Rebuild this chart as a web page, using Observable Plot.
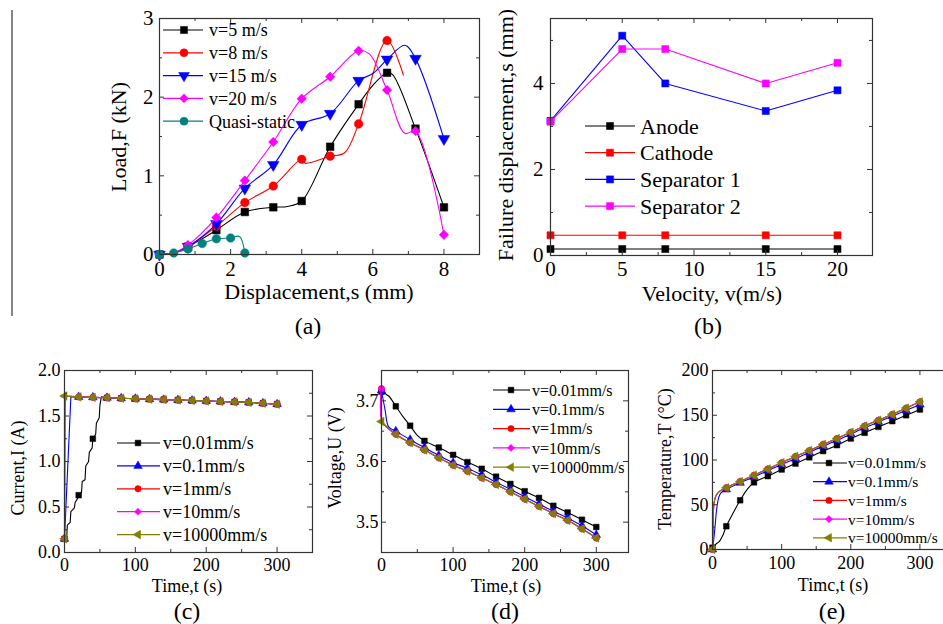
<!DOCTYPE html>
<html><head><meta charset="utf-8">
<script src="https://cdn.jsdelivr.net/npm/d3@7"></script>
<script src="https://cdn.jsdelivr.net/npm/@observablehq/plot@0.6"></script>
<style>
body{margin:0;background:#fff;}
#wrap{position:relative;width:943px;height:624px;overflow:hidden;background:#fff;}
#wrap svg{position:absolute;}
</style></head><body><div id="wrap"></div>
<script>
// ---------------- DATA ----------------
// (a) Load vs displacement
const dispV5  = [0,0.4,0.8,1.2,1.6,2.4,3.2,3.6,4.0,4.8,5.6,6.0,6.4,6.55,7.2,8.0];
const loadV5  = [0,0.02,0.1,0.2,0.31,0.54,0.60,0.61,0.68,1.37,1.91,2.15,2.31,2.29,1.60,0.60];
const dispV8  = [0,0.4,0.8,1.6,2.4,3.2,4.0,4.1,4.8,5.2,5.6,6.4,6.86];
const loadV8  = [0,0.02,0.1,0.36,0.66,0.87,1.21,1.16,1.25,1.29,1.66,2.72,2.28];
const dispV15 = [0,0.4,0.8,1.6,2.4,3.2,4.0,4.8,5.6,6.0,6.4,6.9,7.2,8.0];
const loadV15 = [0,0.02,0.1,0.39,0.84,1.14,1.65,1.79,2.21,2.30,2.48,2.66,2.49,1.47];
const dispV20 = [0,0.4,0.8,1.6,2.4,3.2,4.0,4.8,5.6,5.9,6.4,6.9,7.2,8.0];
const loadV20 = [0,0.02,0.12,0.47,0.94,1.43,1.98,2.26,2.59,2.55,2.09,1.54,1.57,0.25];
const dispQS  = [0,0.4,0.8,1.2,1.6,2.0,2.25,2.4];
const loadQS  = [0,0.02,0.07,0.14,0.20,0.21,0.23,0.02];
const namesA  = ["v=5 m/s","v=8 m/s","v=15 m/s","v=20 m/s","Quasi-static"];

// (b) Failure displacement vs velocity
const velocity   = [0,5,8,15,20];
const anode      = [0.15,0.15,0.15,0.15,0.15];
const cathode    = [0.47,0.47,0.47,0.47,0.47];
const separator1 = [3.13,5.11,4.0,3.36,3.84];
const separator2 = [3.11,4.80,4.80,4.0,4.48];
const namesB     = ["Anode","Cathode","Separator 1","Separator 2"];

// (c)(d)(e) shared
const namesCDE = ["v=0.01mm/s","v=0.1mm/s","v=1mm/s","v=10mm/s","v=10000mm/s"];
const tPlateau = [20,40,60,80,100,120,140,160,180,200,220,240,260,280,300];

// (c) Current
const curPlateau = [1.71,1.705,1.70,1.695,1.69,1.685,1.68,1.675,1.67,1.665,1.66,1.655,1.65,1.64,1.63];
const tCurSlow = [0,3,4,8,9,14,15,19,20,24,25,29,30,34,35,39,40,44,45,49,50,52];
const iCurSlow = [0.15,0.15,0.30,0.33,0.45,0.49,0.55,0.60,0.63,0.66,0.78,0.80,0.95,1.0,1.10,1.15,1.25,1.30,1.42,1.48,1.62,1.71];
const tCur01 = [0,9];      const iCur01 = [0.15,1.71];
const tCur1  = [0,1];      const iCur1  = [0.15,1.72];
const tCur10 = [0,0.5];    const iCur10 = [0.15,1.72];
const tCur1e4 = [0,0];     const iCur1e4 = [0.15,1.72];

// (d) Voltage
const tVoltSlow = [0,10,20,30,40,50,60,80,100,120,140,160,180,200,220,240,260,280,300];
const uVoltSlow = [3.715,3.708,3.691,3.674,3.659,3.643,3.634,3.623,3.611,3.599,3.588,3.575,3.563,3.551,3.540,3.527,3.516,3.504,3.492];
const tVolt01 = [0,5,10,20,40,60,80,100,120,140,160,180,200,220,240,260,280,300];
const uVolt01 = [3.717,3.685,3.657,3.650,3.636,3.623,3.610,3.598,3.589,3.578,3.566,3.554,3.542,3.530,3.518,3.507,3.494,3.479];
const tVoltFast = [0,1,20,40,60,80,100,120,140,160,180,200,220,240,260,280,300];
const uVoltFast = [3.72,3.666,3.645,3.631,3.619,3.606,3.594,3.584,3.573,3.562,3.550,3.538,3.526,3.514,3.503,3.489,3.474];
const tVolt1e4 = [0,20,40,60,80,100,120,140,160,180,200,220,240,260,280,300];
const uVolt1e4 = [3.666,3.645,3.631,3.619,3.606,3.594,3.584,3.573,3.562,3.550,3.538,3.526,3.514,3.503,3.489,3.474];

// (e) Temperature
const tTempSlow = [0,5,10,15,20,30,40,50,60,80,100,120,140,160,180,200,220,240,260,280,300];
const TTempSlow = [2,6,9,16,26,41,55,67,75,82,89.4,96,103,110,116.6,124,130.4,137,143.4,150,156.4];
const tTemp01 = [0,3,6,9,12,20,40,60,80,100,120,140,160,180,200,220,240,260,280,300];
const TTemp01 = [0,20,45,58,63,67,74.5,81,88,95,101.5,108.5,115.5,122,129,136,142.5,149,155.5,162];
const tTempFast = [0,1,2,5,10,20,40,60,80,100,120,140,160,180,200,220,240,260,280,300];
const TTempFast = [0,30,50,60,65,69,76,83,90,97,104,110.5,117.5,124,131,138,144.5,151,158,165];

// ---------------- HELPERS ----------------
const FONT = '"Liberation Serif","Times New Roman",serif';
const wrap = document.getElementById("wrap");
const rows = (xs, ys) => xs.map((x, i) => ({x, y: ys[i]}));
const onStep = (step) => (d) => Math.abs(d.x / step - Math.round(d.x / step)) < 1e-6;
const style = (fs) => ({fontFamily: FONT, fontSize: fs + "px", color: "#000", background: "transparent", overflow: "visible"});

const C = {black:"#000000", red:"#ff0000", blue:"#0000ff", magenta:"#ff00ff", teal:"#008080", olive:"#808000"};
const SYM = {
  square: {symbol:"square", rotate:0},
  circle: {symbol:"circle", rotate:0},
  up:     {symbol:"triangle", rotate:0},
  down:   {symbol:"triangle", rotate:180},
  left:   {symbol:"triangle", rotate:-90},
  diamond:{symbol:"diamond2", rotate:0}
};
const D3SYM = {square:d3.symbolSquare, circle:d3.symbolCircle, triangle:d3.symbolTriangle, diamond2:d3.symbolDiamond2};

function frameTicks(fw, fh, xMaj, xMin, yMaj, yMin) {
  const L = 5, S = 3, st = {stroke: "#333", strokeWidth: 1};
  return [
    Plot.tickX(xMaj, {insetTop: fh - L, ...st}),
    Plot.tickX(xMaj, {insetBottom: fh - L, ...st}),
    Plot.tickX(xMin, {insetTop: fh - S, ...st}),
    Plot.tickX(xMin, {insetBottom: fh - S, ...st}),
    Plot.tickY(yMaj, {insetRight: fw - L, ...st}),
    Plot.tickY(yMaj, {insetLeft: fw - L, ...st}),
    Plot.tickY(yMin, {insetRight: fw - S, ...st}),
    Plot.tickY(yMin, {insetLeft: fw - S, ...st}),
    Plot.frame({stroke: "#333", strokeWidth: 1.2})
  ];
}

function seriesMarks(list, curve, r) {
  const out = [];
  for (const s of list) {
    const data = rows(s.xs, s.ys);
    out.push(Plot.line(data, {x: "x", y: "y", stroke: s.color, strokeWidth: 1.1, curve}));
    out.push(Plot.dot(data.filter(onStep(s.step)), {x: "x", y: "y", r, fill: s.color, stroke: s.color, strokeWidth: 0.5, symbol: SYM[s.sym].symbol, rotate: SYM[s.sym].rotate}));
  }
  return out;
}

function place(svg, left, top) {
  svg.style.left = left + "px";
  svg.style.top = top + "px";
  wrap.appendChild(svg);
}

// ---------------- (a) ----------------
const seriesA = [
  {xs: dispV5,  ys: loadV5,  color: C.black,   sym: "square",  step: 0.8},
  {xs: dispV8,  ys: loadV8,  color: C.red,     sym: "circle",  step: 0.8},
  {xs: dispV15, ys: loadV15, color: C.blue,    sym: "down",    step: 0.8},
  {xs: dispV20, ys: loadV20, color: C.magenta, sym: "diamond", step: 0.8},
  {xs: dispQS,  ys: loadQS,  color: C.teal,    sym: "circle",  step: 0.4}
];
{
  const w = 440, h = 340, ml = 99, mr = 21, mt = 18, mb = 86;
  place(Plot.plot({
    width: w, height: h, marginLeft: ml, marginRight: mr, marginTop: mt, marginBottom: mb,
    x: {domain: [0, 9]}, y: {domain: [0, 3]}, style: style(21),
    marks: [
      ...seriesMarks(seriesA, "catmull-rom", 4.3),
      ...frameTicks(w - ml - mr, h - mt - mb, [0,2,4,6,8], [1,3,5,7], [0,1,2,3], [0.5,1.5,2.5]),
      Plot.axisX({ticks: [0,2,4,6,8], tickSize: 0, tickPadding: 7, tickFormat: d3.format("d"), label: null}),
      Plot.axisY({ticks: [0,1,2,3], tickSize: 0, tickPadding: 6, tickFormat: d3.format("d"), label: null})
    ]
  }), 60, 0);
}

// ---------------- (b) ----------------
const seriesB = [
  {xs: velocity, ys: anode,      color: C.black,   sym: "square", step: 1},
  {xs: velocity, ys: cathode,    color: C.red,     sym: "square", step: 1},
  {xs: velocity, ys: separator1, color: C.blue,    sym: "square", step: 1},
  {xs: velocity, ys: separator2, color: C.magenta, sym: "square", step: 1}
];
{
  const w = 400, h = 340, ml = 50, mr = 28, mt = 18, mb = 85;
  place(Plot.plot({
    width: w, height: h, marginLeft: ml, marginRight: mr, marginTop: mt, marginBottom: mb,
    x: {domain: [0, 22.44]}, y: {domain: [0, 5.51]}, style: style(21),
    marks: [
      ...seriesMarks(seriesB, "linear", 4),
      ...frameTicks(w - ml - mr, h - mt - mb, [0,5,10,15,20], [2.5,7.5,12.5,17.5], [0,2,4], [1,3,5]),
      Plot.axisX({ticks: [0,5,10,15,20], tickSize: 0, tickPadding: 6, tickFormat: d3.format("d"), label: null}),
      Plot.axisY({ticks: [0,2,4], tickSize: 0, tickPadding: 7, tickFormat: d3.format("d"), label: null})
    ]
  }), 500, 0);
}

// ---------------- (c) ----------------
const seriesC = [
  {xs: tCurSlow.concat(tPlateau.slice(2)), ys: iCurSlow.concat(curPlateau.slice(2)), color: C.black, sym: "square", step: 20},
  {xs: tCur01.concat(tPlateau),  ys: iCur01.concat(curPlateau),  color: C.blue,    sym: "up",      step: 20},
  {xs: tCur1.concat(tPlateau),   ys: iCur1.concat(curPlateau),   color: C.red,     sym: "circle",  step: 20},
  {xs: tCur10.concat(tPlateau),  ys: iCur10.concat(curPlateau),  color: C.magenta, sym: "diamond", step: 20},
  {xs: tCur1e4.concat(tPlateau), ys: iCur1e4.concat(curPlateau), color: C.olive,   sym: "left",    step: 20}
];
{
  const w = 330, h = 284, ml = 64, mr = 18, mt = 30, mb = 72;
  place(Plot.plot({
    width: w, height: h, marginLeft: ml, marginRight: mr, marginTop: mt, marginBottom: mb,
    x: {domain: [0, 350]}, y: {domain: [0, 2]}, style: style(18),
    marks: [
      ...seriesMarks(seriesC, "linear", 3.2),
      ...frameTicks(w - ml - mr, h - mt - mb, [0,100,200,300], [50,150,250], [0,0.5,1,1.5,2], [0.25,0.75,1.25,1.75]),
      Plot.axisX({ticks: [0,100,200,300], tickSize: 0, tickPadding: 6, tickFormat: d3.format("d"), label: null}),
      Plot.axisY({ticks: [0,0.5,1,1.5,2], tickSize: 0, tickPadding: 4, tickFormat: d3.format(".1f"), label: null})
    ]
  }), 0, 340);
}

// ---------------- (d) ----------------
const seriesD = [
  {xs: tVoltSlow, ys: uVoltSlow, color: C.black,   sym: "square",  step: 20},
  {xs: tVolt01,   ys: uVolt01,   color: C.blue,    sym: "up",      step: 20},
  {xs: tVoltFast, ys: uVoltFast, color: C.red,     sym: "circle",  step: 20},
  {xs: tVoltFast, ys: uVoltFast, color: C.magenta, sym: "diamond", step: 20},
  {xs: tVolt1e4,  ys: uVolt1e4,  color: C.olive,   sym: "left",    step: 20}
];
{
  const w = 310, h = 284, ml = 51, mr = 12, mt = 30, mb = 72;
  place(Plot.plot({
    width: w, height: h, marginLeft: ml, marginRight: mr, marginTop: mt, marginBottom: mb,
    x: {domain: [0, 345]}, y: {domain: [3.45, 3.75]}, style: style(18),
    marks: [
      ...seriesMarks(seriesD, "catmull-rom", 3.2),
      ...frameTicks(w - ml - mr, h - mt - mb, [0,100,200,300], [50,150,250], [3.5,3.6,3.7], [3.55,3.65]),
      Plot.axisX({ticks: [0,100,200,300], tickSize: 0, tickPadding: 6, tickFormat: d3.format("d"), label: null}),
      Plot.axisY({ticks: [3.5,3.6,3.7], tickSize: 0, tickPadding: 3, tickFormat: d3.format(".1f"), label: null})
    ]
  }), 330, 340);
}

// ---------------- (e) ----------------
const seriesE = [
  {xs: tTempSlow, ys: TTempSlow, color: C.black,   sym: "square",  step: 20},
  {xs: tTemp01,   ys: TTemp01,   color: C.blue,    sym: "up",      step: 20},
  {xs: tTempFast, ys: TTempFast, color: C.red,     sym: "circle",  step: 20},
  {xs: tTempFast, ys: TTempFast, color: C.magenta, sym: "diamond", step: 20},
  {xs: tTempFast, ys: TTempFast, color: C.olive,   sym: "left",    step: 20}
];
{
  const w = 320, h = 284, ml = 72, mr = 6, mt = 30, mb = 75;
  place(Plot.plot({
    width: w, height: h, marginLeft: ml, marginRight: mr, marginTop: mt, marginBottom: mb,
    x: {domain: [0, 350]}, y: {domain: [0, 200]}, style: style(18),
    marks: [
      ...seriesMarks(seriesE, "catmull-rom", 3.2),
      ...frameTicks(w - ml - mr, h - mt - mb, [0,100,200,300], [50,150,250], [0,50,100,150,200], [25,75,125,175]),
      Plot.axisX({ticks: [0,100,200,300], tickSize: 0, tickPadding: 7, tickFormat: d3.format("d"), label: null}),
      Plot.axisY({ticks: [0,50,100,150,200], tickSize: 0, tickPadding: 4, tickFormat: d3.format("d"), label: null})
    ]
  }), 640, 340);
}

// ---------------- OVERLAY: titles, legends, panel labels ----------------
const ov = d3.create("svg").attr("width", 943).attr("height", 624)
  .style("left", "0px").style("top", "0px")
  .attr("font-family", FONT).attr("fill", "#000");

ov.append("line").attr("x1", 12).attr("x2", 12).attr("y1", 10).attr("y2", 316)
  .attr("stroke", "#444").attr("stroke-width", 1.3);

function hText(txt, x, y, fs) {
  ov.append("text").attr("x", x).attr("y", y).attr("font-size", fs).attr("text-anchor", "middle").text(txt);
}
function vText(txt, cx, cy, fs) {
  ov.append("text").attr("transform", `translate(${cx},${cy}) rotate(-90)`).attr("dy", "0.35em")
    .attr("font-size", fs).attr("text-anchor", "middle").text(txt);
}
function legend(names, series, o) {
  names.forEach((name, i) => {
    const s = series[i], y = o.y0 + i * o.dy, sy = SYM[s.sym];
    ov.append("line").attr("x1", o.x0).attr("x2", o.x1).attr("y1", y).attr("y2", y)
      .attr("stroke", s.color).attr("stroke-width", 1.2);
    ov.append("path").attr("d", d3.symbol(D3SYM[sy.symbol], Math.PI * o.r * o.r)())
      .attr("transform", `translate(${o.xm},${y}) rotate(${sy.rotate})`)
      .attr("fill", s.color).attr("stroke", s.color).attr("stroke-width", 0.5);
    ov.append("text").attr("x", o.xt).attr("y", y).attr("dy", "0.35em").attr("font-size", o.fs).text(name);
  });
}

// axis titles
hText("Displacement,s (mm)", 319, 299, 22);
vText("Load,F (kN)", 118, 137, 22);
hText("Velocity, v(m/s)", 712, 301, 22);
vText("Failure displacement,s (mm)", 505, 135, 22);
hText("Time,t (s)", 187, 592, 18);
vText("Current,I (A)", 18, 468, 18);
hText("Time,t (s)", 506, 592, 18);
vText("Voltage,U (V)", 335, 458, 18);
hText("Timc,t (s)", 833, 591, 18);
vText("Temperature,T (°C)", 665, 459, 18);

// panel labels
hText("(a)", 308, 334, 24);
hText("(b)", 708, 334, 24);
hText("(c)", 187, 619, 24);
hText("(d)", 505, 619, 24);
hText("(e)", 832, 619, 24);

// legends
legend(namesA, seriesA, {x0: 163, x1: 203, xm: 184, xt: 209, y0: 30, dy: 22.8, fs: 18, r: 4});
legend(namesB, seriesB, {x0: 585, x1: 635, xm: 610, xt: 640, y0: 126, dy: 26.7, fs: 22, r: 4});
legend(namesCDE, seriesC, {x0: 117, x1: 160, xm: 138, xt: 163, y0: 443, dy: 22.9, fs: 18, r: 3.2});
legend(namesCDE, seriesD, {x0: 493, x1: 530, xm: 511, xt: 532, y0: 390, dy: 19.3, fs: 16, r: 3.2});
legend(namesCDE, seriesE, {x0: 813, x1: 847, xm: 829, xt: 848, y0: 463, dy: 18.7, fs: 15.5, r: 3.2});

wrap.appendChild(ov.node());
</script>
</body></html>
